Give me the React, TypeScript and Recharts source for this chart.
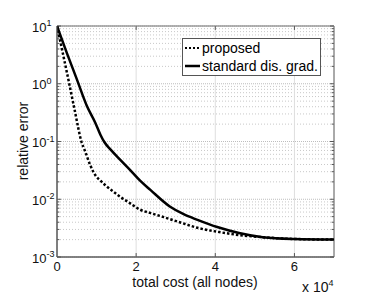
import { LineChart, Line, XAxis, YAxis, ReferenceLine, ReferenceArea } from "recharts";

// cost in units of 1e4, relative error
const proposed = [
  { cost: 0, err: 10 },
  { cost: 0.15, err: 3.3 },
  { cost: 0.29, err: 1.16 },
  { cost: 0.45, err: 0.34 },
  { cost: 0.62, err: 0.098 },
  { cost: 0.71, err: 0.068 },
  { cost: 0.84, err: 0.039 },
  { cost: 0.97, err: 0.026 },
  { cost: 1.1, err: 0.021 },
  { cost: 1.22, err: 0.0175 },
  { cost: 1.47, err: 0.0128 },
  { cost: 1.6, err: 0.011 },
  { cost: 1.85, err: 0.0085 },
  { cost: 2.1, err: 0.0066 },
  { cost: 2.35, err: 0.0058 },
  { cost: 2.7, err: 0.0049 },
  { cost: 3.1, err: 0.004 },
  { cost: 3.55, err: 0.0032 },
  { cost: 4.1, err: 0.0027 },
  { cost: 4.6, err: 0.0024 },
  { cost: 5.2, err: 0.0022 },
  { cost: 6.0, err: 0.00205 },
  { cost: 7.0, err: 0.002 },
];

const standard = [
  { cost: 0, err: 10 },
  { cost: 0.25, err: 3.4 },
  { cost: 0.5, err: 1.2 },
  { cost: 0.75, err: 0.42 },
  { cost: 0.97, err: 0.21 },
  { cost: 1.1, err: 0.13 },
  { cost: 1.2, err: 0.097 },
  { cost: 1.35, err: 0.073 },
  { cost: 1.6, err: 0.048 },
  { cost: 1.85, err: 0.032 },
  { cost: 2.1, err: 0.021 },
  { cost: 2.36, err: 0.0145 },
  { cost: 2.86, err: 0.0074 },
  { cost: 3.2, err: 0.0055 },
  { cost: 3.55, err: 0.0044 },
  { cost: 4.05, err: 0.0033 },
  { cost: 4.6, err: 0.0026 },
  { cost: 5.2, err: 0.0022 },
  { cost: 6.0, err: 0.00205 },
  { cost: 7.0, err: 0.002 },
];

const xTicks = [0, 2, 4, 6];
const yTicks = [0.001, 0.01, 0.1, 1, 10];
const minorMult = [2, 3, 4, 5, 6, 7, 8, 9];

const font = "'Liberation Sans', Arial, sans-serif";

const minorLines: number[] = [];
yTicks.slice(0, 4).forEach((d) => minorMult.forEach((m) => minorLines.push(d * m)));

function YTick(props: any) {
  const { y, payload } = props;
  const e = Math.round(Math.log10(payload.value));
  return (
    <text x={32} y={y + 5.5} textAnchor="start" fontSize={13} fontFamily={font} fill="#111">
      10
      <tspan dy={-5.5} fontSize={9}>{e}</tspan>
    </text>
  );
}

function XTick(props: any) {
  const { x, payload } = props;
  return (
    <text x={x} y={271} textAnchor="middle" fontSize={13} fontFamily={font} fill="#111">
      {payload.value}
    </text>
  );
}

export default function App() {
  return (
    <div style={{ position: "absolute", left: 0, top: 0, width: 374, height: 305, background: "#fff" }}>
      <LineChart width={374} height={305} margin={{ top: 26, right: 40, left: 0, bottom: 18 }}>
        {minorLines.map((v) => (
          <ReferenceLine key={"m" + v} y={v} stroke="#c8c8c8" strokeDasharray="1 2" />
        ))}
        {yTicks.map((v) => (
          <ReferenceLine key={"M" + v} y={v} stroke="#bdbdbd" strokeDasharray="1 1" />
        ))}
        {xTicks.slice(1).map((v) => (
          <ReferenceLine key={"x" + v} x={v} stroke="#dedede" />
        ))}
        {/* inward tick marks on left and right */}
        {minorLines.map((v) => (
          <ReferenceLine key={"tl" + v} segment={[{ x: 0, y: v }, { x: 0.06, y: v }]} stroke="#555" />
        ))}
        {minorLines.map((v) => (
          <ReferenceLine key={"tr" + v} segment={[{ x: 6.94, y: v }, { x: 7, y: v }]} stroke="#555" />
        ))}
        {yTicks.map((v) => (
          <ReferenceLine key={"Tl" + v} segment={[{ x: 0, y: v }, { x: 0.1, y: v }]} stroke="#555" />
        ))}
        {yTicks.map((v) => (
          <ReferenceLine key={"Tr" + v} segment={[{ x: 6.9, y: v }, { x: 7, y: v }]} stroke="#555" />
        ))}
        {xTicks.slice(1).map((v) => (
          <ReferenceLine key={"tb" + v} segment={[{ x: v, y: 0.001 }, { x: v, y: 0.00117 }]} stroke="#555" />
        ))}
        {xTicks.slice(1).map((v) => (
          <ReferenceLine key={"tt" + v} segment={[{ x: v, y: 8.55 }, { x: v, y: 10 }]} stroke="#555" />
        ))}
        <XAxis
          type="number"
          dataKey="cost"
          domain={[0, 7]}
          ticks={xTicks}
          allowDataOverflow
          height={30}
          tickLine={false}
          axisLine={{ stroke: "#555" }}
          tick={<XTick />}
        />
        <YAxis
          type="number"
          dataKey="err"
          scale="log"
          domain={[0.001, 10]}
          ticks={yTicks}
          allowDataOverflow
          width={57}
          tickLine={false}
          axisLine={{ stroke: "#555" }}
          tick={<YTick />}
        />
        <ReferenceArea x1={0} x2={7} y1={0.001} y2={10} fill="none" stroke="#555" ifOverflow="visible" />
        <Line
          data={proposed}
          dataKey="err"
          type="monotone"
          stroke="#000"
          strokeWidth={2.5}
          strokeDasharray="2.5 2"
          dot={false}
          isAnimationActive={false}
        />
        <Line
          data={standard}
          dataKey="err"
          type="monotone"
          stroke="#000"
          strokeWidth={2.5}
          dot={false}
          isAnimationActive={false}
        />
      </LineChart>
      <div
        style={{
          position: "absolute",
          left: 182,
          top: 38,
          width: 137,
          height: 36,
          border: "1px solid #555",
          background: "#fff",
          fontFamily: font,
          fontSize: 14,
          lineHeight: "18px",
          color: "#000",
        }}
      >
        <div style={{ display: "flex", alignItems: "center", paddingLeft: 2 }}>
          <svg width={15} height={6}>
            <line x1={0} y1={3} x2={15} y2={3} stroke="#000" strokeWidth={2} strokeDasharray="2 2" />
          </svg>
          <span style={{ marginLeft: 2 }}>proposed</span>
        </div>
        <div style={{ display: "flex", alignItems: "center", paddingLeft: 2 }}>
          <svg width={15} height={6}>
            <line x1={0} y1={3} x2={15} y2={3} stroke="#000" strokeWidth={2.5} />
          </svg>
          <span style={{ marginLeft: 2 }}>standard dis. grad.</span>
        </div>
      </div>
      <div
        style={{
          position: "absolute",
          left: 23,
          top: 141,
          transform: "translate(-50%, -50%) rotate(-90deg)",
          fontFamily: font,
          fontSize: 14,
          lineHeight: "14px",
          whiteSpace: "nowrap",
          color: "#111",
        }}
      >
        relative error
      </div>
      <div
        style={{
          position: "absolute",
          left: 195,
          top: 275,
          transform: "translateX(-50%)",
          fontFamily: font,
          fontSize: 14,
          lineHeight: "14px",
          whiteSpace: "nowrap",
          color: "#111",
        }}
      >
        total cost (all nodes)
      </div>
      <div
        style={{
          position: "absolute",
          left: 302,
          top: 280,
          fontFamily: font,
          fontSize: 14,
          lineHeight: "14px",
          whiteSpace: "nowrap",
          color: "#111",
        }}
      >
        x 10<sup style={{ fontSize: 9, verticalAlign: "6px", lineHeight: 0 }}>4</sup>
      </div>
    </div>
  );
}
